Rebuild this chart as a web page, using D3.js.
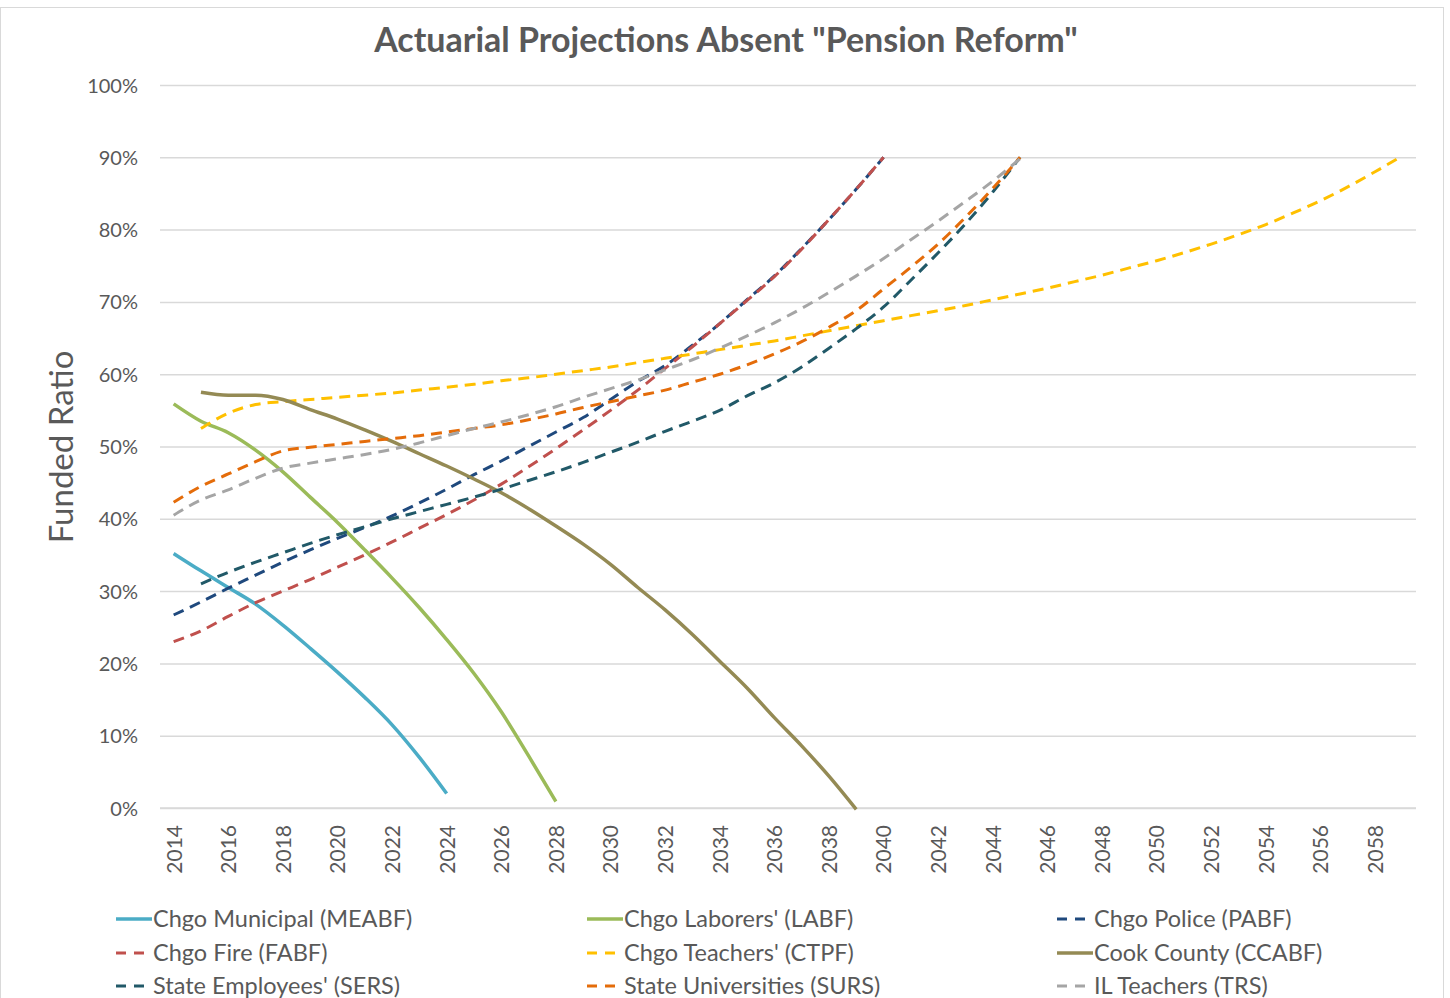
<!DOCTYPE html>
<html>
<head>
<meta charset="utf-8">
<script src="https://cdn.jsdelivr.net/npm/d3@7"></script>
<style>
  html, body { margin: 0; padding: 0; background: #fff; }
  svg { display: block; }
  text { font-family: Lato, "Open Sans", sans-serif; fill: #595959; }
</style>
</head>
<body>
<svg id="chart" width="1450" height="998"></svg>
<script>
// ---------- DATA ----------
const title = 'Actuarial Projections Absent "Pension Reform"';
const yTitle = "Funded Ratio";
const years = d3.range(2014, 2060);               // categories 2014..2059
const xTickLabels = d3.range(2014, 2059, 2);       // labels shown every 2 years
const yTicks = [0, 0.1, 0.2, 0.3, 0.4, 0.5, 0.6, 0.7, 0.8, 0.9, 1.0];

// values in %, starting year for each series
const meabfStart = 2014;
const meabf = [35.2, 32.8, 30.5, 28.2, 25.3, 22.1, 18.8, 15.3, 11.5, 7.0, 2.0];
const labfStart = 2014;
const labf = [55.9, 53.5, 51.9, 49.5, 46.5, 43.0, 39.5, 35.7, 31.8, 27.7, 23.3, 18.6, 13.3, 7.2, 0.9];
const pabfStart = 2014;
const pabf = [26.7, 28.5, 30.4, 32.2, 34.0, 35.7, 37.3, 38.8, 40.4, 42.2, 44.1, 46.1, 48.0, 50.0, 52.0, 54.0, 56.5, 59.0, 61.2, 64.0, 67.0, 70.3, 73.6, 77.4, 81.4, 85.6, 90.0];
const fabfStart = 2014;
const fabf = [23.0, 24.5, 26.5, 28.4, 30.0, 31.6, 33.3, 35.0, 36.8, 38.7, 40.6, 42.6, 44.8, 47.2, 49.7, 52.3, 55.0, 57.8, 60.8, 63.8, 67.0, 70.2, 73.5, 77.3, 81.4, 85.6, 90.0];
const ctpfStart = 2015;
const ctpf = [52.5, 54.6, 55.8, 56.2, 56.5, 56.8, 57.1, 57.4, 57.8, 58.2, 58.6, 59.1, 59.5, 60.0, 60.5, 61.0, 61.6, 62.2, 62.8, 63.4, 64.0, 64.6, 65.3, 66.0, 66.7, 67.4, 68.1, 68.8, 69.5, 70.3, 71.1, 71.9, 72.8, 73.7, 74.7, 75.7, 76.8, 78.0, 79.3, 80.7, 82.3, 84.0, 85.9, 88.0, 90.2];
const ccabfStart = 2015;
const ccabf = [57.5, 57.1, 57.1, 56.5, 55.1, 53.8, 52.3, 50.7, 49.0, 47.3, 45.5, 43.6, 41.4, 39.0, 36.5, 33.7, 30.5, 27.4, 24.0, 20.3, 16.6, 12.5, 8.6, 4.4, -0.2];
const sersStart = 2015;
const sers = [31.0, 32.6, 34.0, 35.3, 36.6, 37.8, 38.9, 40.0, 41.0, 42.0, 43.0, 44.1, 45.3, 46.5, 47.8, 49.2, 50.6, 52.1, 53.5, 55.0, 57.0, 58.8, 61.0, 63.6, 66.3, 69.3, 73.0, 76.8, 80.8, 85.2, 90.0];
const sursStart = 2014;
const surs = [42.3, 44.5, 46.2, 47.9, 49.4, 49.9, 50.3, 50.7, 51.1, 51.5, 52.0, 52.5, 53.0, 53.7, 54.5, 55.4, 56.2, 57.0, 57.8, 58.9, 60.0, 61.3, 62.8, 64.5, 66.5, 68.8, 71.8, 74.8, 78.0, 81.7, 85.7, 90.0];
const trsStart = 2014;
const trs = [40.5, 42.6, 44.0, 45.6, 47.0, 47.7, 48.3, 48.9, 49.6, 50.5, 51.5, 52.5, 53.4, 54.4, 55.5, 56.8, 58.0, 59.2, 60.6, 62.0, 63.6, 65.3, 67.1, 69.1, 71.3, 73.6, 76.0, 78.6, 81.2, 83.9, 86.7, 89.8];

const seriesNames = ["Chgo Municipal (MEABF)", "Chgo Laborers' (LABF)", "Chgo Police (PABF)",
  "Chgo Fire (FABF)", "Chgo Teachers' (CTPF)", "Cook County (CCABF)",
  "State Employees' (SERS)", "State Universities (SURS)", "IL Teachers (TRS)"];
const seriesValues = [meabf, labf, pabf, fabf, ctpf, ccabf, sers, surs, trs];
const seriesStarts = [meabfStart, labfStart, pabfStart, fabfStart, ctpfStart, ccabfStart, sersStart, sursStart, trsStart];
const seriesColors = ["#4BACC6", "#9BBB59", "#1F497D", "#C0504D", "#FFC000", "#948A54", "#215968", "#E46C0A", "#A5A5A5"];
const seriesDashed = [false, false, true, true, true, false, true, true, true];

// ---------- LAYOUT ----------
const svg = d3.select("#chart");
const plot = { left: 160, right: 1416, top: 85, bottom: 808 };

// outer frame
svg.append("rect").attr("x", 0.5).attr("y", 7.5).attr("width", 1443).attr("height", 1010)
  .attr("fill", "#fff").attr("stroke", "#d9d9d9").attr("stroke-width", 1);

const x = d3.scalePoint().domain(years).range([plot.left, plot.right]).padding(0.5);
const y = d3.scaleLinear().domain([0, 1]).range([plot.bottom, plot.top]);

// title
svg.append("text").attr("x", 726).attr("y", 52).attr("text-anchor", "middle")
  .style("font-size", "34px").style("font-weight", "bold").text(title);

// gridlines + y axis
const yAxis = d3.axisLeft(y).tickValues(yTicks).tickFormat(d3.format(".0%"))
  .tickSize(-(plot.right - plot.left)).tickPadding(22);
const gy = svg.append("g").attr("transform", `translate(${plot.left},0)`).call(yAxis);
gy.select(".domain").remove();
gy.selectAll(".tick line").attr("stroke", "#d9d9d9").attr("stroke-width", 1.5);
gy.selectAll(".tick text").style("font-size", "20px").style("fill", "#595959").attr("dy", "0.35em");

// x axis
const xAxis = d3.axisBottom(x).tickValues(xTickLabels).tickSize(0).tickPadding(0);
const gx = svg.append("g").attr("transform", `translate(0,${plot.bottom})`).call(xAxis);
gx.select(".domain").attr("d", `M${plot.left},0H${plot.right}`).attr("stroke", "#d9d9d9").attr("stroke-width", 1.5);
gx.selectAll(".tick text")
  .attr("transform", "rotate(-90)")
  .attr("text-anchor", "end")
  .attr("x", -17).attr("y", 0).attr("dy", "0.35em")
  .style("font-size", "21px").style("fill", "#595959");

// y title
svg.append("text").attr("transform", `translate(73,447) rotate(-90)`).attr("text-anchor", "middle")
  .style("font-size", "33px").text(yTitle);

// lines
const line = d3.line()
  .defined(d => d.v != null)
  .x(d => x(d.year))
  .y(d => y(d.v / 100))
  .curve(d3.curveMonotoneX);

const series = seriesNames.map((name, i) => ({
  name, color: seriesColors[i], dashed: seriesDashed[i],
  points: seriesValues[i].map((v, j) => ({ year: seriesStarts[i] + j, v }))
}));

svg.append("g").selectAll("path").data(series).join("path")
  .attr("d", d => line(d.points))
  .attr("fill", "none")
  .attr("stroke", d => d.color)
  .attr("stroke-width", d => d.dashed ? 3 : 3.5)
  .attr("stroke-dasharray", d => d.dashed ? "11,7" : null)
  .attr("stroke-linecap", "butt")
  .attr("stroke-linejoin", "round");

// legend
const legCols = [116, 587, 1057];
const legRows = [919, 953, 986];
const leg = svg.append("g").selectAll("g").data(series).join("g")
  .attr("transform", (d, i) => `translate(${legCols[i % 3]},${legRows[Math.floor(i / 3)]})`);
leg.append("line").attr("x1", 0).attr("x2", 36).attr("y1", 0).attr("y2", 0)
  .attr("stroke", d => d.color)
  .attr("stroke-width", d => d.dashed ? 3 : 3.5)
  .attr("stroke-dasharray", d => d.dashed ? "10,8" : null);
leg.append("text").attr("x", 37).attr("y", 0).attr("dy", "0.35em")
  .style("font-size", "23.5px").text(d => d.name);
</script>
</body>
</html>
